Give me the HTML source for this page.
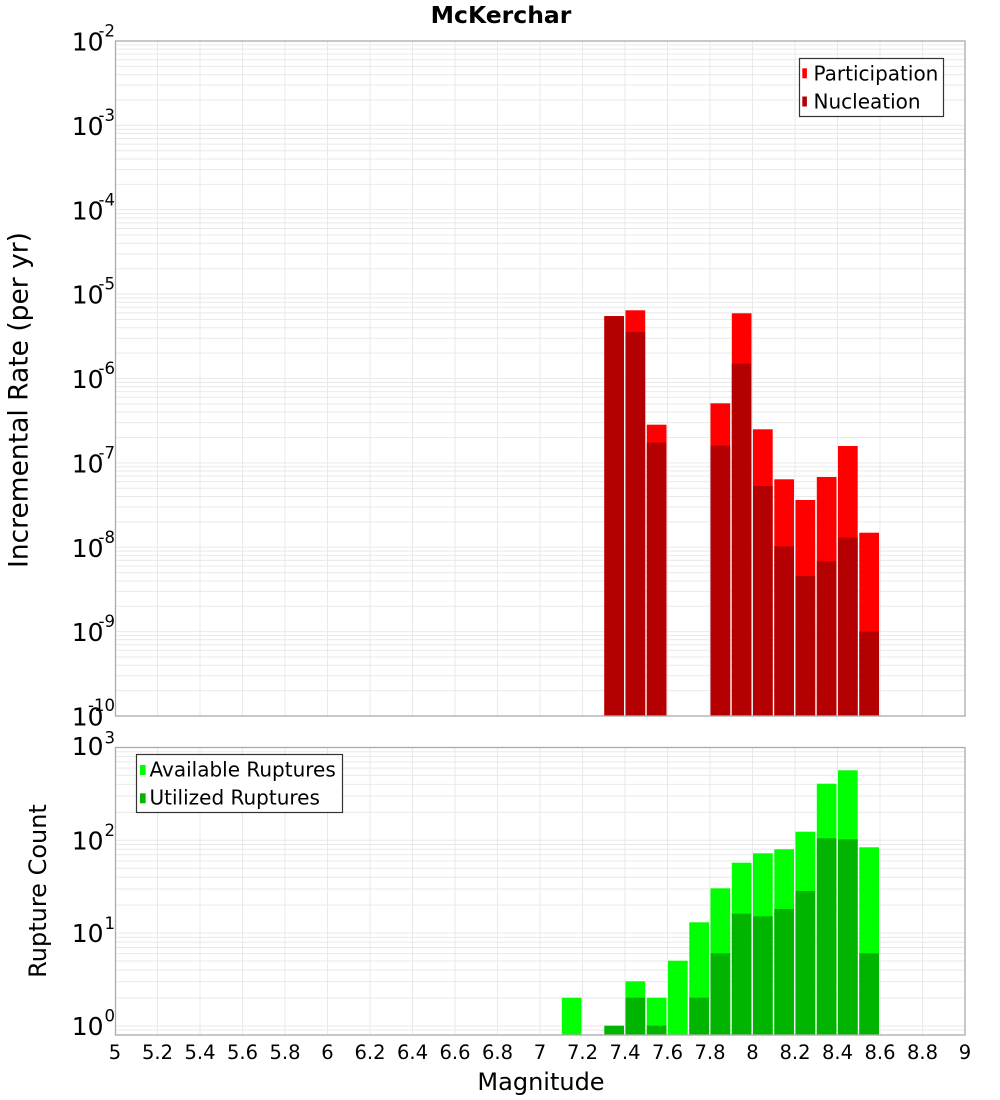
<!DOCTYPE html>
<html><head><meta charset="utf-8"><style>
html,body{margin:0;padding:0;background:#fff;}
svg{display:block;font-family:"DejaVu Sans","Liberation Sans",sans-serif;}
</style></head><body>
<svg width="1000" height="1100" viewBox="0 0 1000 1100" xmlns="http://www.w3.org/2000/svg">
<defs>
<g id="dt" stroke="#e9e9e9" stroke-width="1">
<line x1="115.5" x2="965" y1="0" y2="0"/>
<line x1="115.5" x2="965" y1="3.86" y2="3.86"/>
<line x1="115.5" x2="965" y1="8.18" y2="8.18"/>
<line x1="115.5" x2="965" y1="13.07" y2="13.07"/>
<line x1="115.5" x2="965" y1="18.71" y2="18.71"/>
<line x1="115.5" x2="965" y1="25.40" y2="25.40"/>
<line x1="115.5" x2="965" y1="33.57" y2="33.57"/>
<line x1="115.5" x2="965" y1="44.12" y2="44.12"/>
<line x1="115.5" x2="965" y1="58.98" y2="58.98"/>
</g>
<g id="db" stroke="#e9e9e9" stroke-width="1">
<line x1="115.5" x2="965" y1="0" y2="0"/>
<line x1="115.5" x2="965" y1="4.25" y2="4.25"/>
<line x1="115.5" x2="965" y1="8.99" y2="8.99"/>
<line x1="115.5" x2="965" y1="14.37" y2="14.37"/>
<line x1="115.5" x2="965" y1="20.58" y2="20.58"/>
<line x1="115.5" x2="965" y1="27.93" y2="27.93"/>
<line x1="115.5" x2="965" y1="36.93" y2="36.93"/>
<line x1="115.5" x2="965" y1="48.52" y2="48.52"/>
<line x1="115.5" x2="965" y1="64.87" y2="64.87"/>
</g>
</defs>

<!-- Title -->
<text x="501" y="23" font-size="23.5" font-weight="bold" text-anchor="middle" fill="#000">McKerchar</text>

<!-- TOP PLOT -->
<rect x="115.5" y="41" width="849.5" height="675" fill="#fff"/>
<svg x="0" y="41" width="1000" height="675" overflow="hidden">
<use href="#dt" y="0"/>
<use href="#dt" y="84.375"/>
<use href="#dt" y="168.75"/>
<use href="#dt" y="253.125"/>
<use href="#dt" y="337.5"/>
<use href="#dt" y="421.875"/>
<use href="#dt" y="506.25"/>
<use href="#dt" y="590.625"/>
</svg>
<g stroke="#e9e9e9" stroke-width="1">
<line x1="157.5" x2="157.5" y1="41" y2="716"/>
<line x1="200" x2="200" y1="41" y2="716"/>
<line x1="242.5" x2="242.5" y1="41" y2="716"/>
<line x1="285" x2="285" y1="41" y2="716"/>
<line x1="327.5" x2="327.5" y1="41" y2="716"/>
<line x1="370" x2="370" y1="41" y2="716"/>
<line x1="412.5" x2="412.5" y1="41" y2="716"/>
<line x1="455" x2="455" y1="41" y2="716"/>
<line x1="497.5" x2="497.5" y1="41" y2="716"/>
<line x1="540" x2="540" y1="41" y2="716"/>
<line x1="582.5" x2="582.5" y1="41" y2="716"/>
<line x1="625" x2="625" y1="41" y2="716"/>
<line x1="667.5" x2="667.5" y1="41" y2="716"/>
<line x1="710" x2="710" y1="41" y2="716"/>
<line x1="752.5" x2="752.5" y1="41" y2="716"/>
<line x1="795" x2="795" y1="41" y2="716"/>
<line x1="837.5" x2="837.5" y1="41" y2="716"/>
<line x1="880" x2="880" y1="41" y2="716"/>
<line x1="922.5" x2="922.5" y1="41" y2="716"/>
</g>

<!-- participation (red) -->
<g fill="#ff0000">
<rect x="604.3" y="316" width="19.7" height="400"/>
<rect x="625.5" y="310.3" width="19.7" height="405.7"/>
<rect x="646.8" y="424.7" width="19.7" height="291.3"/>
<rect x="710.5" y="403.3" width="19.7" height="312.7"/>
<rect x="731.8" y="313.3" width="19.7" height="402.7"/>
<rect x="753" y="429.3" width="19.7" height="286.7"/>
<rect x="774.3" y="479.3" width="19.7" height="236.7"/>
<rect x="795.5" y="500" width="19.7" height="216"/>
<rect x="816.8" y="477" width="19.7" height="239"/>
<rect x="838" y="446" width="19.7" height="270"/>
<rect x="859.3" y="532.7" width="19.7" height="183.3"/>
</g>
<!-- nucleation (dark red) -->
<g fill="#b40000">
<rect x="604.3" y="316.3" width="19.7" height="399.7"/>
<rect x="625.5" y="332" width="19.7" height="384"/>
<rect x="646.8" y="442.7" width="19.7" height="273.3"/>
<rect x="710.5" y="445.7" width="19.7" height="270.3"/>
<rect x="731.8" y="363.7" width="19.7" height="352.3"/>
<rect x="753" y="486" width="19.7" height="230"/>
<rect x="774.3" y="546.3" width="19.7" height="169.7"/>
<rect x="795.5" y="576" width="19.7" height="140"/>
<rect x="816.8" y="561.3" width="19.7" height="154.7"/>
<rect x="838" y="537.7" width="19.7" height="178.3"/>
<rect x="859.3" y="631.7" width="19.7" height="84.3"/>
</g>

<rect x="115.5" y="41" width="849.5" height="675" fill="none" stroke="#ababab" stroke-width="1.3"/>

<!-- top legend -->
<rect x="799.5" y="58.5" width="144" height="58" fill="#fff" stroke="#333" stroke-width="1.2"/>
<rect x="802.3" y="68.3" width="4.6" height="10" fill="#ff0000"/>
<text x="813.5" y="80.3" font-size="20" fill="#000">Participation</text>
<rect x="802.3" y="96.5" width="4.6" height="10" fill="#b40000"/>
<text x="813.5" y="108.3" font-size="20" fill="#000">Nucleation</text>

<!-- top y tick labels -->
<g font-size="25" fill="#000" text-anchor="end">
<text x="103.5" y="50.6">10</text>
<text x="103.5" y="135">10</text>
<text x="103.5" y="219.4">10</text>
<text x="103.5" y="303.7">10</text>
<text x="103.5" y="388.1">10</text>
<text x="103.5" y="472.5">10</text>
<text x="103.5" y="556.9">10</text>
<text x="103.5" y="641.2">10</text>
<text x="103.5" y="725.4">10</text>
</g>
<g font-size="16.5" fill="#000" text-anchor="end">
<text x="115" y="36.5">-2</text>
<text x="115" y="120.9">-3</text>
<text x="115" y="205.3">-4</text>
<text x="115" y="289.6">-5</text>
<text x="115" y="374">-6</text>
<text x="115" y="458.4">-7</text>
<text x="115" y="542.8">-8</text>
<text x="115" y="627.1">-9</text>
<text x="115" y="711.2">-10</text>
</g>

<text transform="translate(27.5,400) rotate(-90)" font-size="26.5" text-anchor="middle" fill="#000">Incremental Rate (per yr)</text>

<!-- BOTTOM PLOT -->
<rect x="115.5" y="747.5" width="849.5" height="287.5" fill="#fff"/>
<svg x="0" y="747.5" width="1000" height="287.5" overflow="hidden">
<use href="#db" y="0"/>
<use href="#db" y="92.8"/>
<use href="#db" y="185.6"/>
<use href="#db" y="278.4"/>
</svg>
<g stroke="#e9e9e9" stroke-width="1">
<line x1="157.5" x2="157.5" y1="747.5" y2="1035"/>
<line x1="200" x2="200" y1="747.5" y2="1035"/>
<line x1="242.5" x2="242.5" y1="747.5" y2="1035"/>
<line x1="285" x2="285" y1="747.5" y2="1035"/>
<line x1="327.5" x2="327.5" y1="747.5" y2="1035"/>
<line x1="370" x2="370" y1="747.5" y2="1035"/>
<line x1="412.5" x2="412.5" y1="747.5" y2="1035"/>
<line x1="455" x2="455" y1="747.5" y2="1035"/>
<line x1="497.5" x2="497.5" y1="747.5" y2="1035"/>
<line x1="540" x2="540" y1="747.5" y2="1035"/>
<line x1="582.5" x2="582.5" y1="747.5" y2="1035"/>
<line x1="625" x2="625" y1="747.5" y2="1035"/>
<line x1="667.5" x2="667.5" y1="747.5" y2="1035"/>
<line x1="710" x2="710" y1="747.5" y2="1035"/>
<line x1="752.5" x2="752.5" y1="747.5" y2="1035"/>
<line x1="795" x2="795" y1="747.5" y2="1035"/>
<line x1="837.5" x2="837.5" y1="747.5" y2="1035"/>
<line x1="880" x2="880" y1="747.5" y2="1035"/>
<line x1="922.5" x2="922.5" y1="747.5" y2="1035"/>
</g>

<!-- available (bright green) -->
<g fill="#00ff00">
<rect x="561.8" y="997.7" width="19.7" height="37.3"/>
<rect x="625.5" y="981.3" width="19.7" height="53.7"/>
<rect x="646.8" y="997.7" width="19.7" height="37.3"/>
<rect x="668" y="960.7" width="19.7" height="74.3"/>
<rect x="689.3" y="922.3" width="19.7" height="112.7"/>
<rect x="710.5" y="888.3" width="19.7" height="146.7"/>
<rect x="731.8" y="862.7" width="19.7" height="172.3"/>
<rect x="753" y="853.3" width="19.7" height="181.7"/>
<rect x="774.3" y="849.3" width="19.7" height="185.7"/>
<rect x="795.5" y="831.7" width="19.7" height="203.3"/>
<rect x="816.8" y="783.7" width="19.7" height="251.3"/>
<rect x="838" y="770.3" width="19.7" height="264.7"/>
<rect x="859.3" y="847.3" width="19.7" height="187.7"/>
</g>
<!-- utilized (dark green) -->
<g fill="#00b400">
<rect x="604.3" y="1025.7" width="19.7" height="9.3"/>
<rect x="625.5" y="997.7" width="19.7" height="37.3"/>
<rect x="646.8" y="1025.7" width="19.7" height="9.3"/>
<rect x="689.3" y="997.7" width="19.7" height="37.3"/>
<rect x="710.5" y="953.3" width="19.7" height="81.7"/>
<rect x="731.8" y="913.7" width="19.7" height="121.3"/>
<rect x="753" y="916.3" width="19.7" height="118.7"/>
<rect x="774.3" y="909" width="19.7" height="126"/>
<rect x="795.5" y="891" width="19.7" height="144"/>
<rect x="816.8" y="838.3" width="19.7" height="196.7"/>
<rect x="838" y="839.3" width="19.7" height="195.7"/>
<rect x="859.3" y="953.3" width="19.7" height="81.7"/>
</g>

<rect x="115.5" y="747.5" width="849.5" height="287.5" fill="none" stroke="#ababab" stroke-width="1.3"/>

<!-- bottom legend -->
<rect x="136.5" y="754.5" width="206" height="58" fill="#fff" stroke="#333" stroke-width="1.2"/>
<rect x="140" y="765" width="5.6" height="10" fill="#00ff00"/>
<text x="149.5" y="776.7" font-size="20" fill="#000">Available Ruptures</text>
<rect x="140" y="793.3" width="5.6" height="10" fill="#00b400"/>
<text x="149.5" y="804.3" font-size="20" fill="#000">Utilized Ruptures</text>

<!-- bottom y tick labels -->
<g font-size="25" fill="#000" text-anchor="end">
<text x="103.5" y="755">10</text>
<text x="103.5" y="849.3">10</text>
<text x="103.5" y="942.1">10</text>
<text x="103.5" y="1035">10</text>
</g>
<g font-size="16.5" fill="#000" text-anchor="end">
<text x="115" y="743.3">3</text>
<text x="115" y="836">2</text>
<text x="115" y="928.8">1</text>
<text x="115" y="1021.6">0</text>
</g>

<text transform="translate(45.8,891) rotate(-90)" font-size="24" text-anchor="middle" fill="#000">Rupture Count</text>

<!-- x tick labels -->
<g font-size="19.5" fill="#000" text-anchor="middle">
<text x="115" y="1059">5</text>
<text x="157.5" y="1059">5.2</text>
<text x="200" y="1059">5.4</text>
<text x="242.5" y="1059">5.6</text>
<text x="285" y="1059">5.8</text>
<text x="327.5" y="1059">6</text>
<text x="370" y="1059">6.2</text>
<text x="412.5" y="1059">6.4</text>
<text x="455" y="1059">6.6</text>
<text x="497.5" y="1059">6.8</text>
<text x="540" y="1059">7</text>
<text x="582.5" y="1059">7.2</text>
<text x="625" y="1059">7.4</text>
<text x="667.5" y="1059">7.6</text>
<text x="710" y="1059">7.8</text>
<text x="752.5" y="1059">8</text>
<text x="795" y="1059">8.2</text>
<text x="837.5" y="1059">8.4</text>
<text x="880" y="1059">8.6</text>
<text x="922.5" y="1059">8.8</text>
<text x="965" y="1059">9</text>
</g>

<text x="541" y="1090" font-size="24" text-anchor="middle" fill="#000">Magnitude</text>
</svg>
</body></html>
